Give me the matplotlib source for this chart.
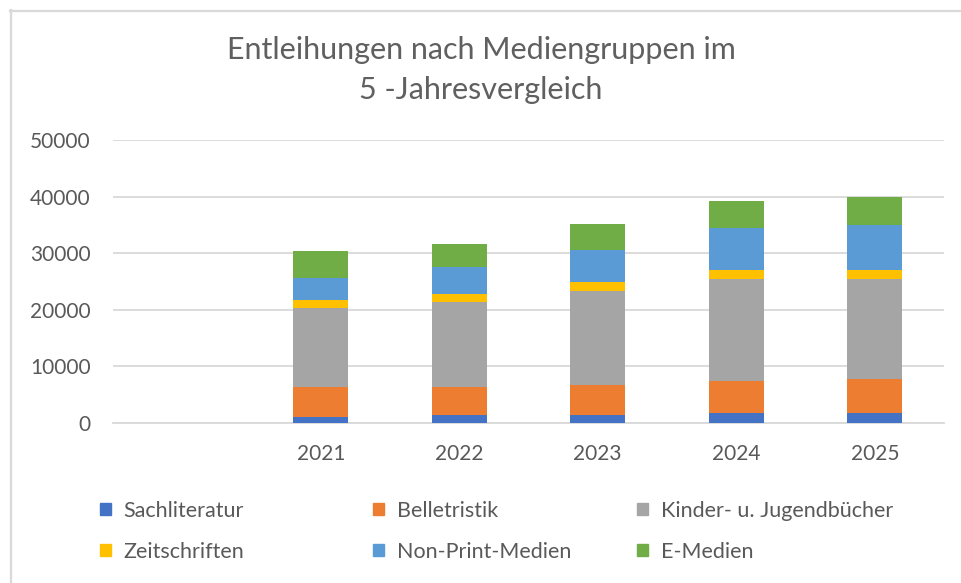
import matplotlib
matplotlib.use("Agg")
import matplotlib.pyplot as plt
import matplotlib.patches as mpatches
from matplotlib.lines import Line2D
import numpy as np

plt.rcParams["font.family"] = ["Lato", "DejaVu Sans"]

years = ["2021", "2022", "2023", "2024", "2025"]
groups = ["Sachliteratur", "Belletristik", "Kinder- u. Jugendbücher",
          "Zeitschriften", "Non-Print-Medien", "E-Medien"]
sachliteratur = [1100, 1400, 1500, 1800, 1800]
belletristik = [5200, 4900, 5300, 5600, 5900]
kinder = [14100, 15100, 16500, 18100, 17700]
zeitschriften = [1300, 1400, 1600, 1500, 1600]
non_print = [4000, 4700, 5700, 7400, 8000]
e_medien = [4700, 4200, 4500, 4800, 4900]
colors = ["#4472C4", "#ED7D31", "#A5A5A5", "#FFC000", "#5B9BD5", "#70AD47"]

series = [sachliteratur, belletristik, kinder, zeitschriften, non_print, e_medien]
text_col = "#595959"
grid_col = "#D9D9D9"

W, H = 961, 583
fig = plt.figure(figsize=(W / 100, H / 100), dpi=100)
ax = fig.add_axes([113 / W, 1 - 423 / H, (944 - 113) / W, (423 - 140) / H])

# first category slot is empty in the original sheet
x = np.arange(1, len(years) + 1)
bottom = np.zeros(len(years))
for vals, col in zip(series, colors):
    ax.bar(x, vals, width=0.40, bottom=bottom, color=col, linewidth=0, zorder=3)
    bottom += np.array(vals)

ax.set_xlim(-0.5, len(years) + 0.5)
ax.set_ylim(0, 50000)
ax.set_yticks(range(0, 50001, 10000))
ax.set_xticks(x)
ax.set_xticklabels(years)
ax.grid(axis="y", color=grid_col, linewidth=1.3, zorder=0)
for s in ["top", "right", "left"]:
    ax.spines[s].set_visible(False)
ax.spines["bottom"].set_color(grid_col)
ax.spines["bottom"].set_linewidth(1.3)
ax.tick_params(axis="both", length=0, colors=text_col, labelsize=15)
ax.tick_params(axis="x", pad=15)
ax.tick_params(axis="y", pad=16)

fig.text(481 / W, 1 - 70 / H, "Entleihungen nach Mediengruppen im\n5 -Jahresvergleich",
         ha="center", va="center", fontsize=22, color="#606060",
         fontweight="normal", linespacing=1.55)

# legend, one block per column
col_x = [100, 373, 637]
for c in range(3):
    handles = [mpatches.Patch(color=colors[c]), mpatches.Patch(color=colors[c + 3])]
    labels = [groups[c], groups[c + 3]]
    fig.legend(handles, labels, loc="upper left",
               bbox_to_anchor=(col_x[c] / W, 1 - 501 / H),
               frameon=False, fontsize=15.5, labelcolor=text_col,
               handlelength=0.5, handleheight=0.5, handletextpad=0.6,
               labelspacing=0.97, borderpad=0, borderaxespad=0)

# chart frame (left and top edges visible)
fig.add_artist(Line2D([11 / W, 11 / W], [0, 1 - 10 / H], transform=fig.transFigure,
                      color=grid_col, linewidth=1.6))
fig.add_artist(Line2D([10 / W, 1], [1 - 11 / H, 1 - 11 / H], transform=fig.transFigure,
                      color=grid_col, linewidth=1.6))

fig.savefig("out.png", dpi=100, facecolor="white")
